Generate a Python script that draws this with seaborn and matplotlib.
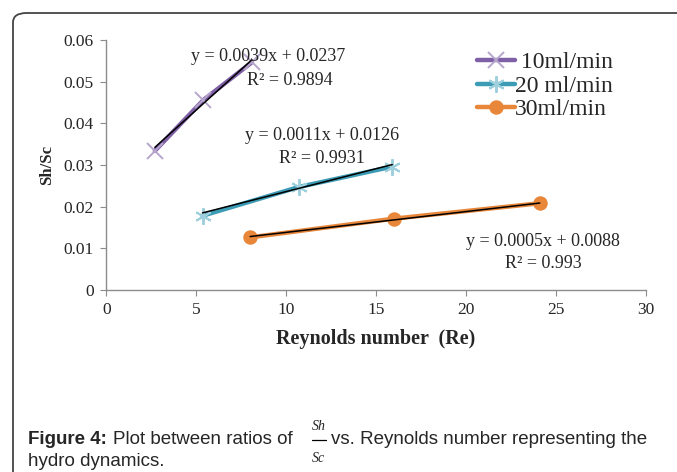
import numpy as np
import pandas as pd
import matplotlib
matplotlib.use("Agg")
import matplotlib.pyplot as plt
import seaborn as sns
from matplotlib.patches import FancyBboxPatch
from matplotlib.ticker import FuncFormatter

# data
series = [" 10ml/min", "20 ml/min", "30ml/min"]
re_10 = [2.7, 5.4, 8.1]
sh_10 = [0.0334, 0.0456, 0.0547]
re_20 = [5.35, 10.7, 15.9]
sh_20 = [0.0178, 0.0247, 0.0296]
re_30 = [8.0, 16.0, 24.1]
sh_30 = [0.0126, 0.0171, 0.0208]
slopes = [0.0039, 0.0011, 0.0005]
intercepts = [0.0237, 0.0126, 0.0088]
r2_labels = ["0.9894", "0.9931", "0.993"]

df = pd.DataFrame({
    "Re": re_10 + re_20 + re_30,
    "ShSc": sh_10 + sh_20 + sh_30,
    "flow": [series[0]] * 3 + [series[1]] * 3 + [series[2]] * 3,
})

sns.set_style("white")
plt.rcParams["font.family"] = ["Liberation Serif", "DejaVu Serif"]

fig = plt.figure(figsize=(6.77, 4.72), dpi=100)
ax = fig.add_axes([0.157, 0.386, 0.797, 0.529])

line_cols = ["#7f5fa6", "#3d9cb5", "#e8863a"]
mark_cols = ["#b6a5cc", "#9dcfdc", "#e8863a"]
markers = ["x", (6, 2, 0), "o"]
msizes = [11, 12, 9]

for i, name in enumerate(series):
    sub = df[df["flow"] == name]
    sns.lineplot(data=sub, x="Re", y="ShSc", ax=ax, color=line_cols[i], lw=3.2,
                 marker=markers[i], markersize=msizes[i], markeredgewidth=1.4,
                 markerfacecolor=mark_cols[i], markeredgecolor=mark_cols[i],
                 label=name, zorder=3)
    # linear trendline over the data range
    xs = np.array([sub["Re"].min(), sub["Re"].max()])
    ax.plot(xs, slopes[i] * xs + intercepts[i], color="black", lw=1.1, zorder=4)

ax.set_xlim(0, 30)
ax.set_ylim(0, 0.06)
ax.set_xticks(range(0, 31, 5))
ax.set_yticks(np.arange(0, 0.061, 0.01))
ax.yaxis.set_major_formatter(FuncFormatter(lambda v, p: "0" if v == 0 else f"{v:.2f}"))

for s in ["top", "right"]:
    ax.spines[s].set_visible(False)
for s in ["left", "bottom"]:
    ax.spines[s].set_color("#8c8c8c")
    ax.spines[s].set_linewidth(1.0)
ax.tick_params(axis="both", direction="out", length=4, color="#8c8c8c",
               labelsize=12.5, left=True, bottom=True, pad=5)

ax.set_xlabel("Reynolds number  (Re)", fontsize=14.5, fontweight="bold", labelpad=8)
ax.set_ylabel("Sh/Sc", fontsize=12, fontweight="bold", labelpad=6)

eq_pos = [(9.0, 0.0560, 10.2, 0.0504), (12.0, 0.0370, 12.0, 0.0315), (24.3, 0.0115, 24.3, 0.0063)]
for i in range(3):
    x1, y1, x2, y2 = eq_pos[i]
    ax.text(x1, y1, f"y = {slopes[i]:.4f}x + {intercepts[i]:.4f}", fontsize=13,
            ha="center", va="center", zorder=5)
    ax.text(x2, y2, f"R² = {r2_labels[i]}", fontsize=13, ha="center", va="center", zorder=5)

leg = ax.legend(loc="upper left", bbox_to_anchor=(0.687, 0.953), frameon=False,
                fontsize=17, handlelength=1.6, handletextpad=0.0, labelspacing=0.08,
                borderaxespad=0, borderpad=0)

# rounded frame around the figure panel
frame = FancyBboxPatch((13 / 677, -0.2), 1.2, 1.2 - 13 / 472,
                       boxstyle="round,pad=0,rounding_size=0.02",
                       transform=fig.transFigure, fill=False,
                       edgecolor="#444444", lw=1.3)
fig.patches.append(frame)

# caption
cap_font = ["Liberation Sans", "DejaVu Sans"]
cap_size = 13.5
y1 = 1 - 440 / 472
t1 = fig.text(28 / 677, y1, "Figure 4:", fontsize=cap_size, fontweight="bold",
              family=cap_font, va="center", ha="left")
r = fig.canvas.get_renderer()
x_after = t1.get_window_extent(r).x1 / 677 + 6 / 677
fig.text(x_after, y1, "Plot between ratios of", fontsize=cap_size,
         family=cap_font, va="center", ha="left")
fig.text(319 / 677, 1 - 427 / 472, "Sh", fontsize=10, style="italic", ha="center", va="center")
fig.add_artist(plt.Line2D([312 / 677, 326 / 677], [1 - 440 / 472, 1 - 440 / 472],
                          color="black", lw=0.9, transform=fig.transFigure))
fig.text(318 / 677, 1 - 459 / 472, "Sc", fontsize=10, style="italic", ha="center", va="center")
fig.text(331 / 677, y1, "vs. Reynolds number representing the", fontsize=cap_size,
         family=cap_font, va="center", ha="left")
fig.text(28 / 677, 1 - 461 / 472, "hydro dynamics.", fontsize=cap_size,
         family=cap_font, va="center", ha="left")

fig.savefig("out.png", dpi=100)
